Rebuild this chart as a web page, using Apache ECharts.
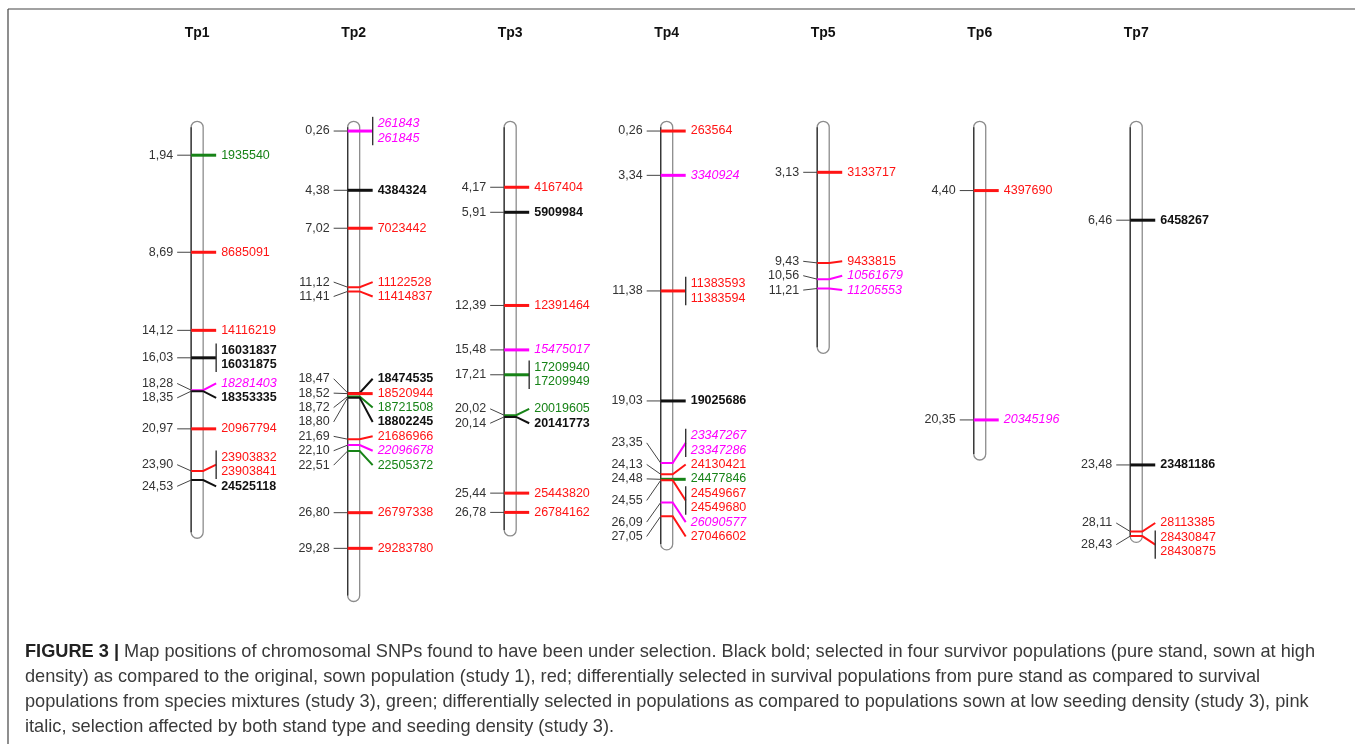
<!DOCTYPE html>
<html><head><meta charset="utf-8">
<script src="https://cdn.jsdelivr.net/npm/echarts@6/dist/echarts.min.js"></script>
<style>html,body{margin:0;padding:0;background:#fff}#chart{width:1355px;height:744px}</style>
</head><body><div id="chart"></div>
<script>
// ---------- data ----------
const chromosomes = ['Tp1', 'Tp2', 'Tp3', 'Tp4', 'Tp5', 'Tp6', 'Tp7'];
const chromLengths = [28.16, 32.56, 28.0, 28.97, 15.3, 22.72, 28.45];

// [position cM, SNP id, class]
const snpTp1 = [
  [1.94, '1935540', 'green'], [8.69, '8685091', 'red'], [14.12, '14116219', 'red'],
  [16.03, '16031837', 'black'], [16.03, '16031875', 'black'],
  [18.28, '18281403', 'pink'], [18.35, '18353335', 'black'],
  [20.97, '20967794', 'red'], [23.90, '23903832', 'red'], [23.90, '23903841', 'red'],
  [24.53, '24525118', 'black']
];
const snpTp2 = [
  [0.26, '261843', 'pink'], [0.26, '261845', 'pink'], [4.38, '4384324', 'black'],
  [7.02, '7023442', 'red'], [11.12, '11122528', 'red'], [11.41, '11414837', 'red'],
  [18.47, '18474535', 'black'], [18.52, '18520944', 'red'], [18.72, '18721508', 'green'],
  [18.80, '18802245', 'black'], [21.69, '21686966', 'red'], [22.10, '22096678', 'pink'],
  [22.51, '22505372', 'green'], [26.80, '26797338', 'red'], [29.28, '29283780', 'red']
];
const snpTp3 = [
  [4.17, '4167404', 'red'], [5.91, '5909984', 'black'], [12.39, '12391464', 'red'],
  [15.48, '15475017', 'pink'], [17.21, '17209940', 'green'], [17.21, '17209949', 'green'],
  [20.02, '20019605', 'green'], [20.14, '20141773', 'black'],
  [25.44, '25443820', 'red'], [26.78, '26784162', 'red']
];
const snpTp4 = [
  [0.26, '263564', 'red'], [3.34, '3340924', 'pink'],
  [11.38, '11383593', 'red'], [11.38, '11383594', 'red'], [19.03, '19025686', 'black'],
  [23.35, '23347267', 'pink'], [23.35, '23347286', 'pink'], [24.13, '24130421', 'red'],
  [24.48, '24477846', 'green'], [24.55, '24549667', 'red'], [24.55, '24549680', 'red'],
  [26.09, '26090577', 'pink'], [27.05, '27046602', 'red']
];
const snpTp5 = [
  [3.13, '3133717', 'red'], [9.43, '9433815', 'red'],
  [10.56, '10561679', 'pink'], [11.21, '11205553', 'pink']
];
const snpTp6 = [
  [4.40, '4397690', 'red'], [20.35, '20345196', 'pink']
];
const snpTp7 = [
  [6.46, '6458267', 'black'], [23.48, '23481186', 'black'],
  [28.11, '28113385', 'red'], [28.43, '28430847', 'red'], [28.43, '28430875', 'red']
];
const snpsByChrom = [snpTp1, snpTp2, snpTp3, snpTp4, snpTp5, snpTp6, snpTp7];

const captionLines = [
  '{b|FIGURE 3 |} Map positions of chromosomal SNPs found to have been under selection. Black bold; selected in four survivor populations (pure stand, sown at high',
  'density) as compared to the original, sown population (study 1), red; differentially selected in survival populations from pure stand as compared to survival',
  'populations from species mixtures (study 3), green; differentially selected in populations as compared to populations sown at low seeding density (study 3), pink',
  'italic, selection affected by both stand type and seeding density (study 3).'
];

// ---------- styling / layout ----------
const FAMILY = '"Liberation Sans", Arial, Helvetica, sans-serif';
const colors = { black: '#111111', red: '#ff1414', green: '#178317', pink: '#ff00ff' };
const PX_PER_CM = 14.38, ZERO_Y = 127.3, GRID_TOP = 45, GRID_BOTTOM = 40, HEIGHT = 744;
const yMin = (GRID_TOP - ZERO_Y) / PX_PER_CM;
const yMax = yMin + (HEIGHT - GRID_TOP - GRID_BOTTOM) / PX_PER_CM;
const ROW_H = 14.4, HALF_W = 6, FONT = 12.5, CAPTION_FONT = 18.2;

function fmt(v) { return v.toFixed(2).replace('.', ','); }

function layoutGroups(groups) {
  const clusters = groups.map(g => ({ groups: [g] }));
  function place(c) {
    const gs = c.groups;
    const first = gs[0].my - (gs[0].n - 1) / 2 * ROW_H;
    const lg = gs[gs.length - 1];
    const last = lg.my + (lg.n - 1) / 2 * ROW_H;
    const N = gs.reduce((s, g) => s + g.n, 0);
    const center = (first + last) / 2;
    c.top = center - (N - 1) / 2 * ROW_H;
    c.bottom = c.top + (N - 1) * ROW_H;
  }
  clusters.forEach(place);
  let merged = true;
  while (merged) {
    merged = false;
    for (let i = 0; i < clusters.length - 1; i++) {
      if (clusters[i + 1].top - clusters[i].bottom < ROW_H - 0.01) {
        clusters[i].groups = clusters[i].groups.concat(clusters[i + 1].groups);
        clusters.splice(i + 1, 1);
        place(clusters[i]);
        merged = true;
        break;
      }
    }
  }
  clusters.forEach(c => {
    let y = c.top;
    c.groups.forEach(g => {
      g.rowYs = [];
      for (let k = 0; k < g.n; k++) { g.rowYs.push(y); y += ROW_H; }
      g.ly = (g.rowYs[0] + g.rowYs[g.n - 1]) / 2;
    });
  });
}

function renderChrom(params, api) {
  const idx = api.value(0);
  const len = api.value(1);
  const top = api.coord([idx, 0]);
  const bot = api.coord([idx, len]);
  const cx = top[0];
  const xl = cx - HALF_W, xr = cx + HALF_W;
  const children = [];
  children.push({
    type: 'rect',
    shape: { x: xl, y: top[1] - HALF_W, width: 2 * HALF_W, height: bot[1] - top[1] + 2 * HALF_W, r: HALF_W },
    style: { fill: '#fff', stroke: '#8c8c8c', lineWidth: 1.3 }
  });
  children.push({
    type: 'line', shape: { x1: xl, y1: top[1], x2: xl, y2: bot[1] },
    style: { stroke: '#333', lineWidth: 1.3 }
  });
  const groups = [];
  snpsByChrom[idx].forEach(s => {
    const last = groups[groups.length - 1];
    if (last && last.pos === s[0]) { last.items.push(s); last.n++; }
    else groups.push({ pos: s[0], items: [s], n: 1, my: api.coord([idx, s[0]])[1] });
  });
  layoutGroups(groups);
  groups.forEach(g => {
    const cls = g.items[0][2];
    const col = colors[cls];
    const tx = xr + 13;
    children.push({
      type: 'line', shape: { x1: xl - 14, y1: g.ly, x2: xl, y2: g.my },
      style: { stroke: '#444', lineWidth: 1 }
    });
    children.push({
      type: 'text', x: xl - 18, y: g.ly,
      style: { text: fmt(g.pos), align: 'right', verticalAlign: 'middle', fontSize: FONT, fontFamily: FAMILY, fill: '#333' }
    });
    if (Math.abs(g.ly - g.my) < 0.6) {
      children.push({
        type: 'line', shape: { x1: xl, y1: g.my, x2: tx, y2: g.my },
        style: { stroke: col, lineWidth: 3 }
      });
    } else {
      children.push({
        type: 'polyline', shape: { points: [[xl, g.my], [xr, g.my], [tx, g.ly]] },
        style: { stroke: col, lineWidth: 2, fill: null }
      });
    }
    if (g.n > 1) {
      children.push({
        type: 'line', shape: { x1: tx, y1: g.rowYs[0] - 7, x2: tx, y2: g.rowYs[g.n - 1] + 7 },
        style: { stroke: '#333', lineWidth: 1.4 }
      });
    }
    g.items.forEach((s, k) => {
      children.push({
        type: 'text', x: xr + 18, y: g.rowYs[k],
        style: {
          text: s[1], align: 'left', verticalAlign: 'middle', fontSize: FONT, fontFamily: FAMILY,
          fill: colors[s[2]],
          fontWeight: s[2] === 'black' ? 'bold' : 'normal',
          fontStyle: s[2] === 'pink' ? 'italic' : 'normal'
        }
      });
    });
  });
  return { type: 'group', children };
}

const captionGraphics = captionLines.map((t, i) => ({
  type: 'text', x: 25, y: 652 + i * 25,
  style: {
    text: t, fontSize: CAPTION_FONT, fontFamily: FAMILY, fill: '#3a3a3a', verticalAlign: 'middle',
    rich: { b: { fontSize: CAPTION_FONT, fontWeight: 'bold', fontFamily: FAMILY, fill: '#222', verticalAlign: 'middle' } }
  }
}));

const chart = echarts.init(document.getElementById('chart'), null, { renderer: 'canvas' });
chart.setOption({
  animation: false,
  backgroundColor: '#fff',
  grid: { left: 118.9, right: 140.5, top: GRID_TOP, bottom: GRID_BOTTOM },
  xAxis: {
    type: 'category', data: chromosomes, position: 'top', boundaryGap: true,
    axisLine: { show: false }, axisTick: { show: false }, splitLine: { show: false },
    axisLabel: { fontSize: 14, fontWeight: 'bold', color: '#111', margin: 5, fontFamily: FAMILY }
  },
  yAxis: { type: 'value', inverse: true, min: yMin, max: yMax, show: false },
  graphic: [
    { type: 'line', shape: { x1: 8, y1: 9, x2: 1355, y2: 9 }, style: { stroke: '#444', lineWidth: 1.2 } },
    { type: 'line', shape: { x1: 8, y1: 9, x2: 8, y2: 744 }, style: { stroke: '#444', lineWidth: 1.2 } }
  ].concat(captionGraphics),
  series: [{
    type: 'custom', renderItem: renderChrom, clip: false, silent: true,
    encode: { x: 0, y: 1 },
    data: chromosomes.map((c, i) => [i, chromLengths[i]])
  }]
});
</script>
</body></html>
